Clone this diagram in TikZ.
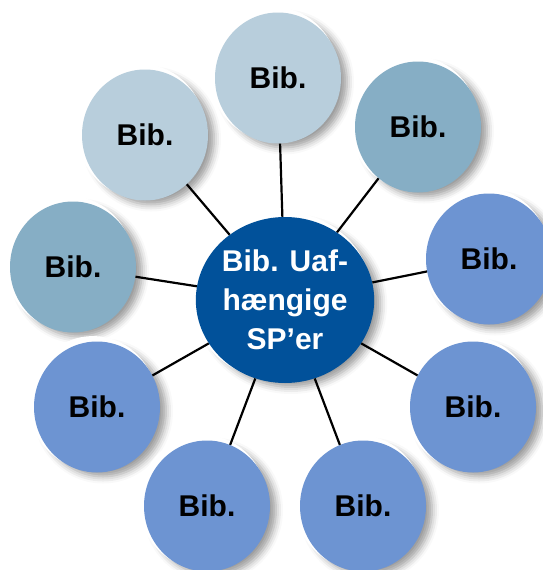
\documentclass[tikz,border=0pt]{standalone}
\usepackage{fontspec}
\setmainfont{Liberation Sans}
\usetikzlibrary{shapes.geometric,shadows.blur}
\definecolor{bibLight}{HTML}{B8CEDC}
\definecolor{bibMid}{HTML}{86AEC5}
\definecolor{bibPeri}{HTML}{6D94D2}
\definecolor{hubBlue}{HTML}{01519A}
\tikzset{
  bibshadow/.style={
    blur shadow={shadow xshift=6pt, shadow yshift=-4pt, shadow blur radius=7pt, shadow opacity=40},
    general shadow={fill=white, shadow xshift=-4pt, shadow yshift=4pt, shadow scale=1.02}},
  bibnode/.style={ellipse, bibshadow, minimum width=126pt, minimum height=131pt, inner sep=0pt,
    font=\fontsize{30}{36}\selectfont\bfseries, text=black},
  hubnode/.style={ellipse, bibshadow, fill=hubBlue, minimum width=156pt, minimum height=166pt, inner sep=0pt,
    font=\fontsize{30}{39}\selectfont\bfseries, text=white, align=center},
  spoke/.style={draw=black, line width=2.2pt}
}
\begin{document}
\begin{tikzpicture}[x=1pt,y=1pt]
\useasboundingbox (0,0) rectangle (542,-570);
\node[bibnode, fill=bibLight] (t)   at (278,-78)  {Bib.};
\node[bibnode, fill=bibLight] (ul)  at (145,-135) {Bib.};
\node[bibnode, fill=bibMid]   (ur)  at (418,-127) {Bib.};
\node[bibnode, fill=bibMid]   (l)   at (73,-267)  {Bib.};
\node[bibnode, fill=bibPeri]  (r)   at (489,-259) {Bib.};
\node[bibnode, fill=bibPeri]  (bl)  at (97,-407)  {Bib.};
\node[bibnode, fill=bibPeri]  (br)  at (473,-407) {Bib.};
\node[bibnode, fill=bibPeri]  (bcl) at (207,-506) {Bib.};
\node[bibnode, fill=bibPeri]  (bcr) at (363,-506) {Bib.};
\node[hubnode] (c) at (285,-300) {Bib. Uaf-\\hængige\\SP’er};
\foreach \n in {t,ul,ur,l,r,bl,br,bcl,bcr}
  \draw[spoke] (c) -- (\n);
\end{tikzpicture}
\end{document}
